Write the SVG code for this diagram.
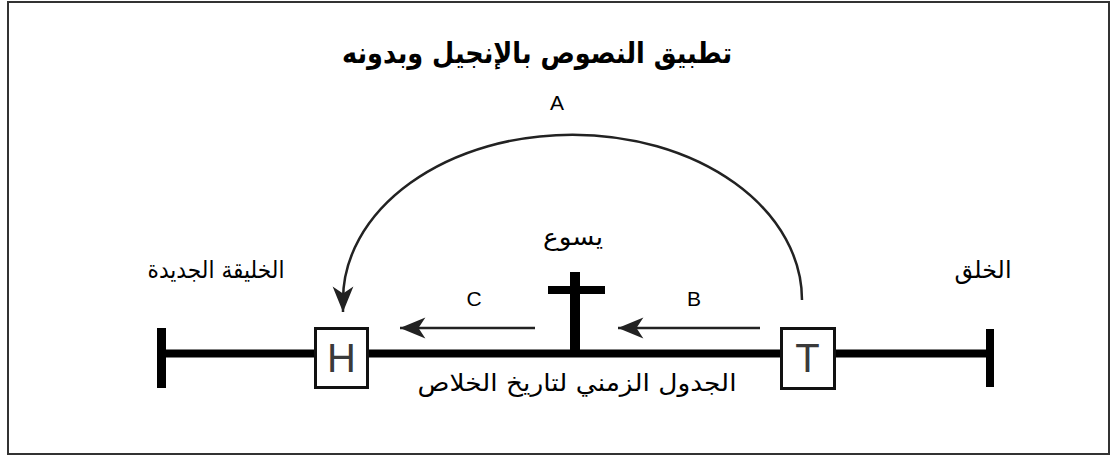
<svg xmlns="http://www.w3.org/2000/svg" width="1115" height="457" viewBox="0 0 1115 457">
<style>
.ar{font-family:"DejaVu Sans","Liberation Sans",sans-serif;fill:#000;text-anchor:middle}
.lat{font-family:"Liberation Sans",Arial,sans-serif;fill:#000;text-anchor:middle;font-size:21px}
.box{fill:#fff;stroke:#111;stroke-width:3}
.boxt{font-family:"Liberation Sans",Arial,sans-serif;fill:#3a3a3a;text-anchor:middle;font-size:40px}
.conn{fill:none;stroke:#222;stroke-width:2.5}
</style>
<defs>
<marker id="ah" markerUnits="userSpaceOnUse" markerWidth="30" markerHeight="30" refX="0" refY="0" viewBox="-24 -12 26 24" orient="auto">
<path d="M0,0 L-22,-9 L-16,0 L-22,9 Z" fill="#222"/>
</marker>
</defs>
<rect x="8" y="2" width="1101" height="452" fill="#fff" stroke="#333" stroke-width="2"/>
<text class="ar" x="537" y="63" font-size="29" font-weight="bold" direction="rtl" textLength="390" lengthAdjust="spacingAndGlyphs">تطبيق النصوص بالإنجيل وبدونه</text>
<g id="timeline">
<rect x="161" y="349.5" width="830" height="8" fill="#000"/>
<rect x="157" y="328" width="9" height="60" fill="#000"/>
<rect x="986" y="329" width="8" height="58" fill="#000"/>
</g>
<g id="cross">
<rect x="570" y="272" width="10" height="84" fill="#000"/>
<rect x="548" y="286" width="57" height="8" fill="#000"/>
<text class="ar" x="573" y="245" font-size="24" direction="rtl" textLength="60" lengthAdjust="spacingAndGlyphs">يسوع</text>
</g>
<g id="nodeH">
<rect class="box" x="315.5" y="328.5" width="52" height="59"/>
<text class="boxt" x="341.5" y="372">H</text>
</g>
<g id="nodeT">
<rect class="box" x="781.5" y="328.5" width="53" height="60"/>
<text class="boxt" x="807.5" y="372">T</text>
</g>
<g id="labels">
<text class="ar" x="983" y="278" font-size="24" direction="rtl" textLength="57" lengthAdjust="spacingAndGlyphs">الخلق</text>
<text class="ar" x="216" y="278" font-size="24" direction="rtl" textLength="137" lengthAdjust="spacingAndGlyphs">الخليقة الجديدة</text>
<text class="ar" x="577" y="391" font-size="24" direction="rtl" textLength="319" lengthAdjust="spacingAndGlyphs">الجدول الزمني لتاريخ الخلاص</text>
</g>
<g id="connectors">
<path class="conn" d="M 802 300 A 229 165 0 0 0 343 300 L 343 312" marker-end="url(#ah)"/>
<path class="conn" d="M 760 328 L 618 328" marker-end="url(#ah)"/>
<path class="conn" d="M 535 328 L 400 328" marker-end="url(#ah)"/>
<text class="lat" x="557" y="110">A</text>
<text class="lat" x="694" y="306">B</text>
<text class="lat" x="474" y="306">C</text>
</g>
</svg>
